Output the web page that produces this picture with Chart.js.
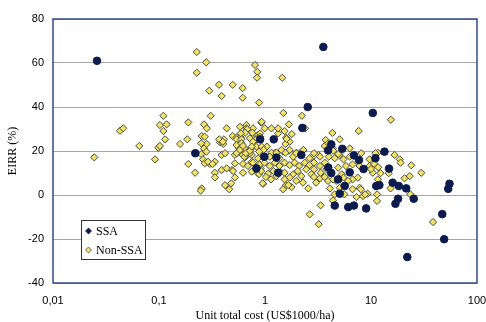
<!DOCTYPE html>
<html>
<head>
<meta charset="utf-8">
<script src="https://cdn.jsdelivr.net/npm/chart.js@4/dist/chart.umd.min.js"></script>
<style>
  html, body { margin: 0; padding: 0; background: #fff; }
  canvas { display: block; }
</style>
</head>
<body>
<canvas id="eirrChart" width="486" height="322"></canvas>
<script>
// Series values: unit total cost (US$1000/ha) and EIRR (%)
const ssaCost = [
  0.026, 0.22, 3.55, 2.53, 10.4, 2.25, 4.22, 5.36, 1.21, 0.9,
  3.93, 13.4, 6.9, 0.985, 2.2, 7.7, 11, 55, 53.5, 47,
  49, 22, 25.3, 21.5, 18.3, 16, 18, 17, 14.8, 11.2,
  12, 9, 6.9, 6.1, 4.55, 5.07, 5.65, 6.3, 8.5, 4.22,
  3.95, 0.83, 1.33, 4.9, 1.28
];
const ssaEirr = [
  61, 19, 67.3, 40, 37.3, 30.5, 23, 21, 25.3, 25.3,
  20.3, 19.7, 18, 17.4, 18.2, 15.9, 16.7, 5.1, 2.8, -8.7,
  -20.1, -28.2, -1.7, 3, 4.1, 5.6, -1.7, -4, 12, 4.1,
  4.5, -6.1, -4.8, -5.5, -4.8, 0.6, 4.1, 10.3, 11.8, 10,
  12.5, 12.1, 10.1, 7.1, 17
];

const nonSsaCost = [
  0.227, 0.227, 0.279, 0.298, 0.368, 0.39, 0.496, 0.616, 0.616, 0.805,
  0.846, 0.84, 1.456, 0.88, 0.307, 0.189, 0.11, 0.102, 0.118, 0.11,
  0.114, 0.0429, 0.046, 0.0652, 0.0985, 0.102, 0.158, 0.185, 0.253, 0.266,
  0.282, 0.266, 0.282, 0.435, 0.376, 0.404, 0.41, 0.496, 0.581, 0.54,
  0.59, 0.57, 0.39, 0.42, 0.52, 0.54, 0.616, 0.0245, 0.0917, 15.4,
  1.49, 2.23, 1.68, 2.39, 7.66, 4.32, 5.07, 3.74, 0.667, 0.667,
  0.771, 0.994, 1.15, 1.33, 1.53, 1.71, 1.56, 1.58, 0.923, 0.86,
  0.743, 0.83, 0.64, 0.74, 0.83, 1.04, 1.25, 1.48, 1.68, 2.28,
  3.66, 4.38, 5.07, 6.3, 8.1, 9.7, 11.6, 16.7, 18.7, 38.5,
  3.21, 2.64, 3.35, 29.8, 24, 23.5, 23.2, 20.7, 11.4, 11.4,
  12.3, 11.6, 14.7, 15.3, 19, 9.3, 8.4, 7.8, 7.3, 6.7,
  7.5, 7.8, 9.7, 10.4, 5.07, 5.6, 4.38, 4.54, 4.1, 3.93,
  4.7, 3.03, 3.3, 2.74, 2.2, 1.97, 2.28, 1.58, 1.78, 1.48,
  1.84, 1.71, 1.28, 1.37, 0.96, 0.86, 6.7, 6.07, 0.189, 0.219,
  0.253, 0.247, 0.302, 0.337, 0.337, 0.337, 0.39, 0.435, 0.49, 0.52,
  0.52, 0.42, 0.46, 0.48, 0.62, 0.62, 0.75, 0.75, 0.88, 0.91,
  0.95, 2.56, 1.66, 8.8, 8, 11.7, 10.7, 10, 1.6, 1.15,
  1.28, 1.43, 1.56, 1.71, 1.98, 2.16, 2.3, 3.95, 4.4, 4.9,
  3.2, 2.76, 0.27, 0.25, 0.28, 0.25, 0.37, 0.4, 0.68, 0.76,
  0.65, 0.59, 0.54, 0.6, 0.54, 0.6, 0.72, 0.77, 0.93, 0.97,
  0.9, 0.93, 0.58, 0.65, 0.75, 0.88, 0.96, 11, 0.69, 0.77,
  0.89, 0.99, 1.11, 1.24, 1.37, 1.53, 1.71, 1.9, 2.1, 2.37,
  2.63, 2.9, 3.3, 3.66, 0.92, 1.07, 1.2, 1.53, 2.04, 2.45,
  2.9, 3.35, 3.8, 4.9, 5.3, 5.8, 6.7, 1.53, 1.14, 1.02,
  2.9, 3.66, 4.38, 5.5, 0.64, 0.72, 0.86, 1.11, 1.37, 1.84,
  1.97, 2.63, 2.9, 3.3, 4, 4.54, 5.5, 6.3, 0.66, 0.72,
  0.75, 0.62, 1.79, 0.9, 0.26, 0.27, 0.29, 0.32, 0.5, 1.33
];
const nonSsaEirr = [
  65, 55.6, 60.3, 47.4, 50.1, 45, 50.1, 48.6, 44.2, 59.1,
  56, 53.3, 53.3, 42, 36, 33, 36, 31.8, 32.1, 29.1,
  25.3, 29.2, 30.3, 22.3, 21.5, 22.3, 23.2, 25.3, 26.8, 32.1,
  30.3, 21.2, 23.2, 30.3, 24, 23.2, 25.3, 26.8, 31, 26.2,
  26.2, 21.2, 18.2, 19, 18.2, 19, 18.2, 17.1, 16.2, 34.2,
  37.3, 36, 32.1, 30.3, 29.1, 28.2, 25.3, 25, 31.8, 30.3,
  30.3, 30.3, 30.3, 28, 29.1, 24.2, 23.2, 26, 32.9, 27.3,
  26.2, 25.3, 21.2, 21.2, 22, 22, 19.2, 19.7, 20.1, 20.1,
  22.3, 21.2, 18.2, 21.2, 19, 16.2, 19.2, 18.2, 16.2, -12.3,
  -13.3, -8.8, -4.7, 10.1, 13.5, 0.3, 8.6, 7.6, 0.3, -2.7,
  9.9, 7.1, 9.9, 3, 14.7, 0.6, -0.5, 3.3, -0.9, 2.6,
  7.9, 13.2, 13.2, 10.1, 3.3, 0.3, -2.4, 0.3, 3, 6.4,
  6.4, 5.6, 7.6, 9.4, 8.6, 6.4, 5.6, 4.5, 3.6, 2.6,
  9.4, 7.9, 8.6, 10.9, 5.1, 9.7, 7.1, 6.4, 14.1, 10.1,
  3, 2, 14.1, 15.1, 10.1, 8, 11.4, 12.1, 11.4, 14.4,
  8, 4.5, 2.6, 5.3, 14.1, 10.1, 10.6, 15.1, 9.5, 12.1,
  5.3, 3, 4.5, 0.3, 2.6, 12.6, 14.1, 11.8, 25.5, 19.2,
  19.2, 20.5, 19.2, 20.5, 19.2, 19.2, 20.5, 23.5, 20.1, 18.6,
  18.2, 17, 26.5, 23.5, 19.7, 18.6, 25.3, 24.2, 29.9, 28.3,
  28.3, 28, 25.3, 25.3, 22.7, 23.5, 25.8, 24.2, 22, 20.5,
  28, 33.3, 20.5, 17.1, 18.2, 19.7, 17.4, 19, 13.2, 14.7,
  13.9, 14.7, 13.2, 14.7, 13.2, 14.7, 13.6, 14.7, 13.2, 14.7,
  13.6, 14.7, 13.2, 14.7, 10.9, 9.7, 10.9, 10.1, 10.9, 11.7,
  11.7, 10.1, 11.7, 12.4, 9.4, 13.2, 13.9, 7.1, 7.1, 8.2,
  8.2, 8.2, 7.1, 7.9, 17.4, 19, 16.7, 17.4, 16.7, 17.4,
  19, 16.7, 19, 17.4, 17.4, 16.7, 16.2, 17.4, 19, 20.1,
  22, 22.3, 27.7, 26.5, 16.2, 14.4, 15.1, 14.1, 10.9, 30.3
];

// Axis ticks
const xTickValues = [0.01, 0.1, 1, 10, 100];
const xTickLabels = ['0,01', '0,1', '1', '10', '100'];
const seriesNames = ['SSA', 'Non-SSA'];

const SSA_COLOR = '#0b1b4d';
const NON_SSA_FILL = '#f1e36a';
const NON_SSA_EDGE = '#4a4a3c';
const FRAME_COLOR = '#2f4a8c';

function toPoints(xs, ys) {
    return xs.map((x, i) => ({ x: x, y: ys[i] }));
}

// Blue frame round the plot area
const plotFrame = {
    id: 'plotFrame',
    beforeDatasetsDraw(chart) {
        const a = chart.chartArea;
        const ctx = chart.ctx;
        ctx.save();
        ctx.strokeStyle = FRAME_COLOR;
        ctx.lineWidth = 1.5;
        ctx.strokeRect(a.left, a.top, a.right - a.left, a.bottom - a.top);
        ctx.restore();
    }
};

// Boxed legend sitting inside the plot, lower left
const boxLegend = {
    id: 'boxLegend',
    afterDraw(chart) {
        const ctx = chart.ctx;
        ctx.save();
        ctx.fillStyle = '#fff';
        ctx.fillRect(81, 220, 64, 39);
        ctx.strokeStyle = '#333';
        ctx.lineWidth = 1;
        ctx.strokeRect(81.5, 220.5, 64, 39);

        ctx.font = '12px "Liberation Serif", serif';
        ctx.textBaseline = 'middle';
        ctx.fillStyle = '#000';
        const rows = [
            { y: 231, fill: SSA_COLOR, edge: SSA_COLOR },
            { y: 250, fill: NON_SSA_FILL, edge: NON_SSA_EDGE }
        ];
        rows.forEach((r, i) => {
            ctx.beginPath();
            ctx.moveTo(88.5, r.y - 3);
            ctx.lineTo(91.5, r.y);
            ctx.lineTo(88.5, r.y + 3);
            ctx.lineTo(85.5, r.y);
            ctx.closePath();
            ctx.fillStyle = r.fill;
            ctx.fill();
            ctx.strokeStyle = r.edge;
            ctx.lineWidth = 0.8;
            ctx.stroke();
            ctx.fillStyle = '#000';
            ctx.fillText(seriesNames[i], 96, r.y + 1);
        });
        ctx.restore();
    }
};

const ctx = document.getElementById('eirrChart').getContext('2d');
new Chart(ctx, {
    type: 'scatter',
    data: {
        datasets: [
            {
                label: seriesNames[0],
                data: toPoints(ssaCost, ssaEirr),
                pointStyle: 'circle',
                pointRadius: 3.8,
                backgroundColor: SSA_COLOR,
                borderColor: SSA_COLOR,
                borderWidth: 1
            },
            {
                label: seriesNames[1],
                data: toPoints(nonSsaCost, nonSsaEirr),
                pointStyle: 'rectRot',
                pointRadius: 3.6,
                backgroundColor: NON_SSA_FILL,
                borderColor: NON_SSA_EDGE,
                borderWidth: 1
            }
        ]
    },
    options: {
        responsive: false,
        animation: false,
        layout: { padding: { left: 0, right: 9, top: 19, bottom: 0 } },
        plugins: {
            legend: { display: false },
            tooltip: { enabled: false }
        },
        scales: {
            x: {
                type: 'logarithmic',
                min: 0.01,
                max: 100,
                afterBuildTicks: function(scale) {
                    scale.ticks = xTickValues.map(v => ({ value: v }));
                },
                afterFit: function(scale) {
                    scale.height = 39;
                    // let the "100" label overhang instead of shrinking the plot
                    scale.paddingLeft = 0;
                    scale.paddingRight = 0;
                },
                ticks: {
                    autoSkip: false,
                    maxRotation: 0,
                    padding: 11,
                    color: '#000',
                    font: { family: '"Liberation Sans", Arial, sans-serif', size: 11 },
                    callback: function(value) {
                        const i = xTickValues.indexOf(value);
                        return i >= 0 ? xTickLabels[i] : '';
                    }
                },
                grid: { display: false, drawTicks: false },
                border: { display: false },
                title: {
                    display: true,
                    text: 'Unit total cost (US$1000/ha)',
                    color: '#000',
                    padding: { top: 0, bottom: 0 },
                    font: { family: '"Liberation Serif", serif', size: 12, lineHeight: 1 }
                }
            },
            y: {
                min: -40,
                max: 80,
                afterFit: function(scale) { scale.width = 53; },
                ticks: {
                    stepSize: 20,
                    padding: 9,
                    color: '#000',
                    font: { family: '"Liberation Sans", Arial, sans-serif', size: 11 }
                },
                grid: { color: '#a6a6a6', lineWidth: 1, drawTicks: false },
                border: { display: false },
                title: {
                    display: true,
                    text: 'EIRR (%)',
                    color: '#000',
                    padding: { top: 7, bottom: 0 },
                    font: { family: '"Liberation Serif", serif', size: 12, lineHeight: 1 }
                }
            }
        }
    },
    plugins: [plotFrame, boxLegend]
});
</script>
</body>
</html>
